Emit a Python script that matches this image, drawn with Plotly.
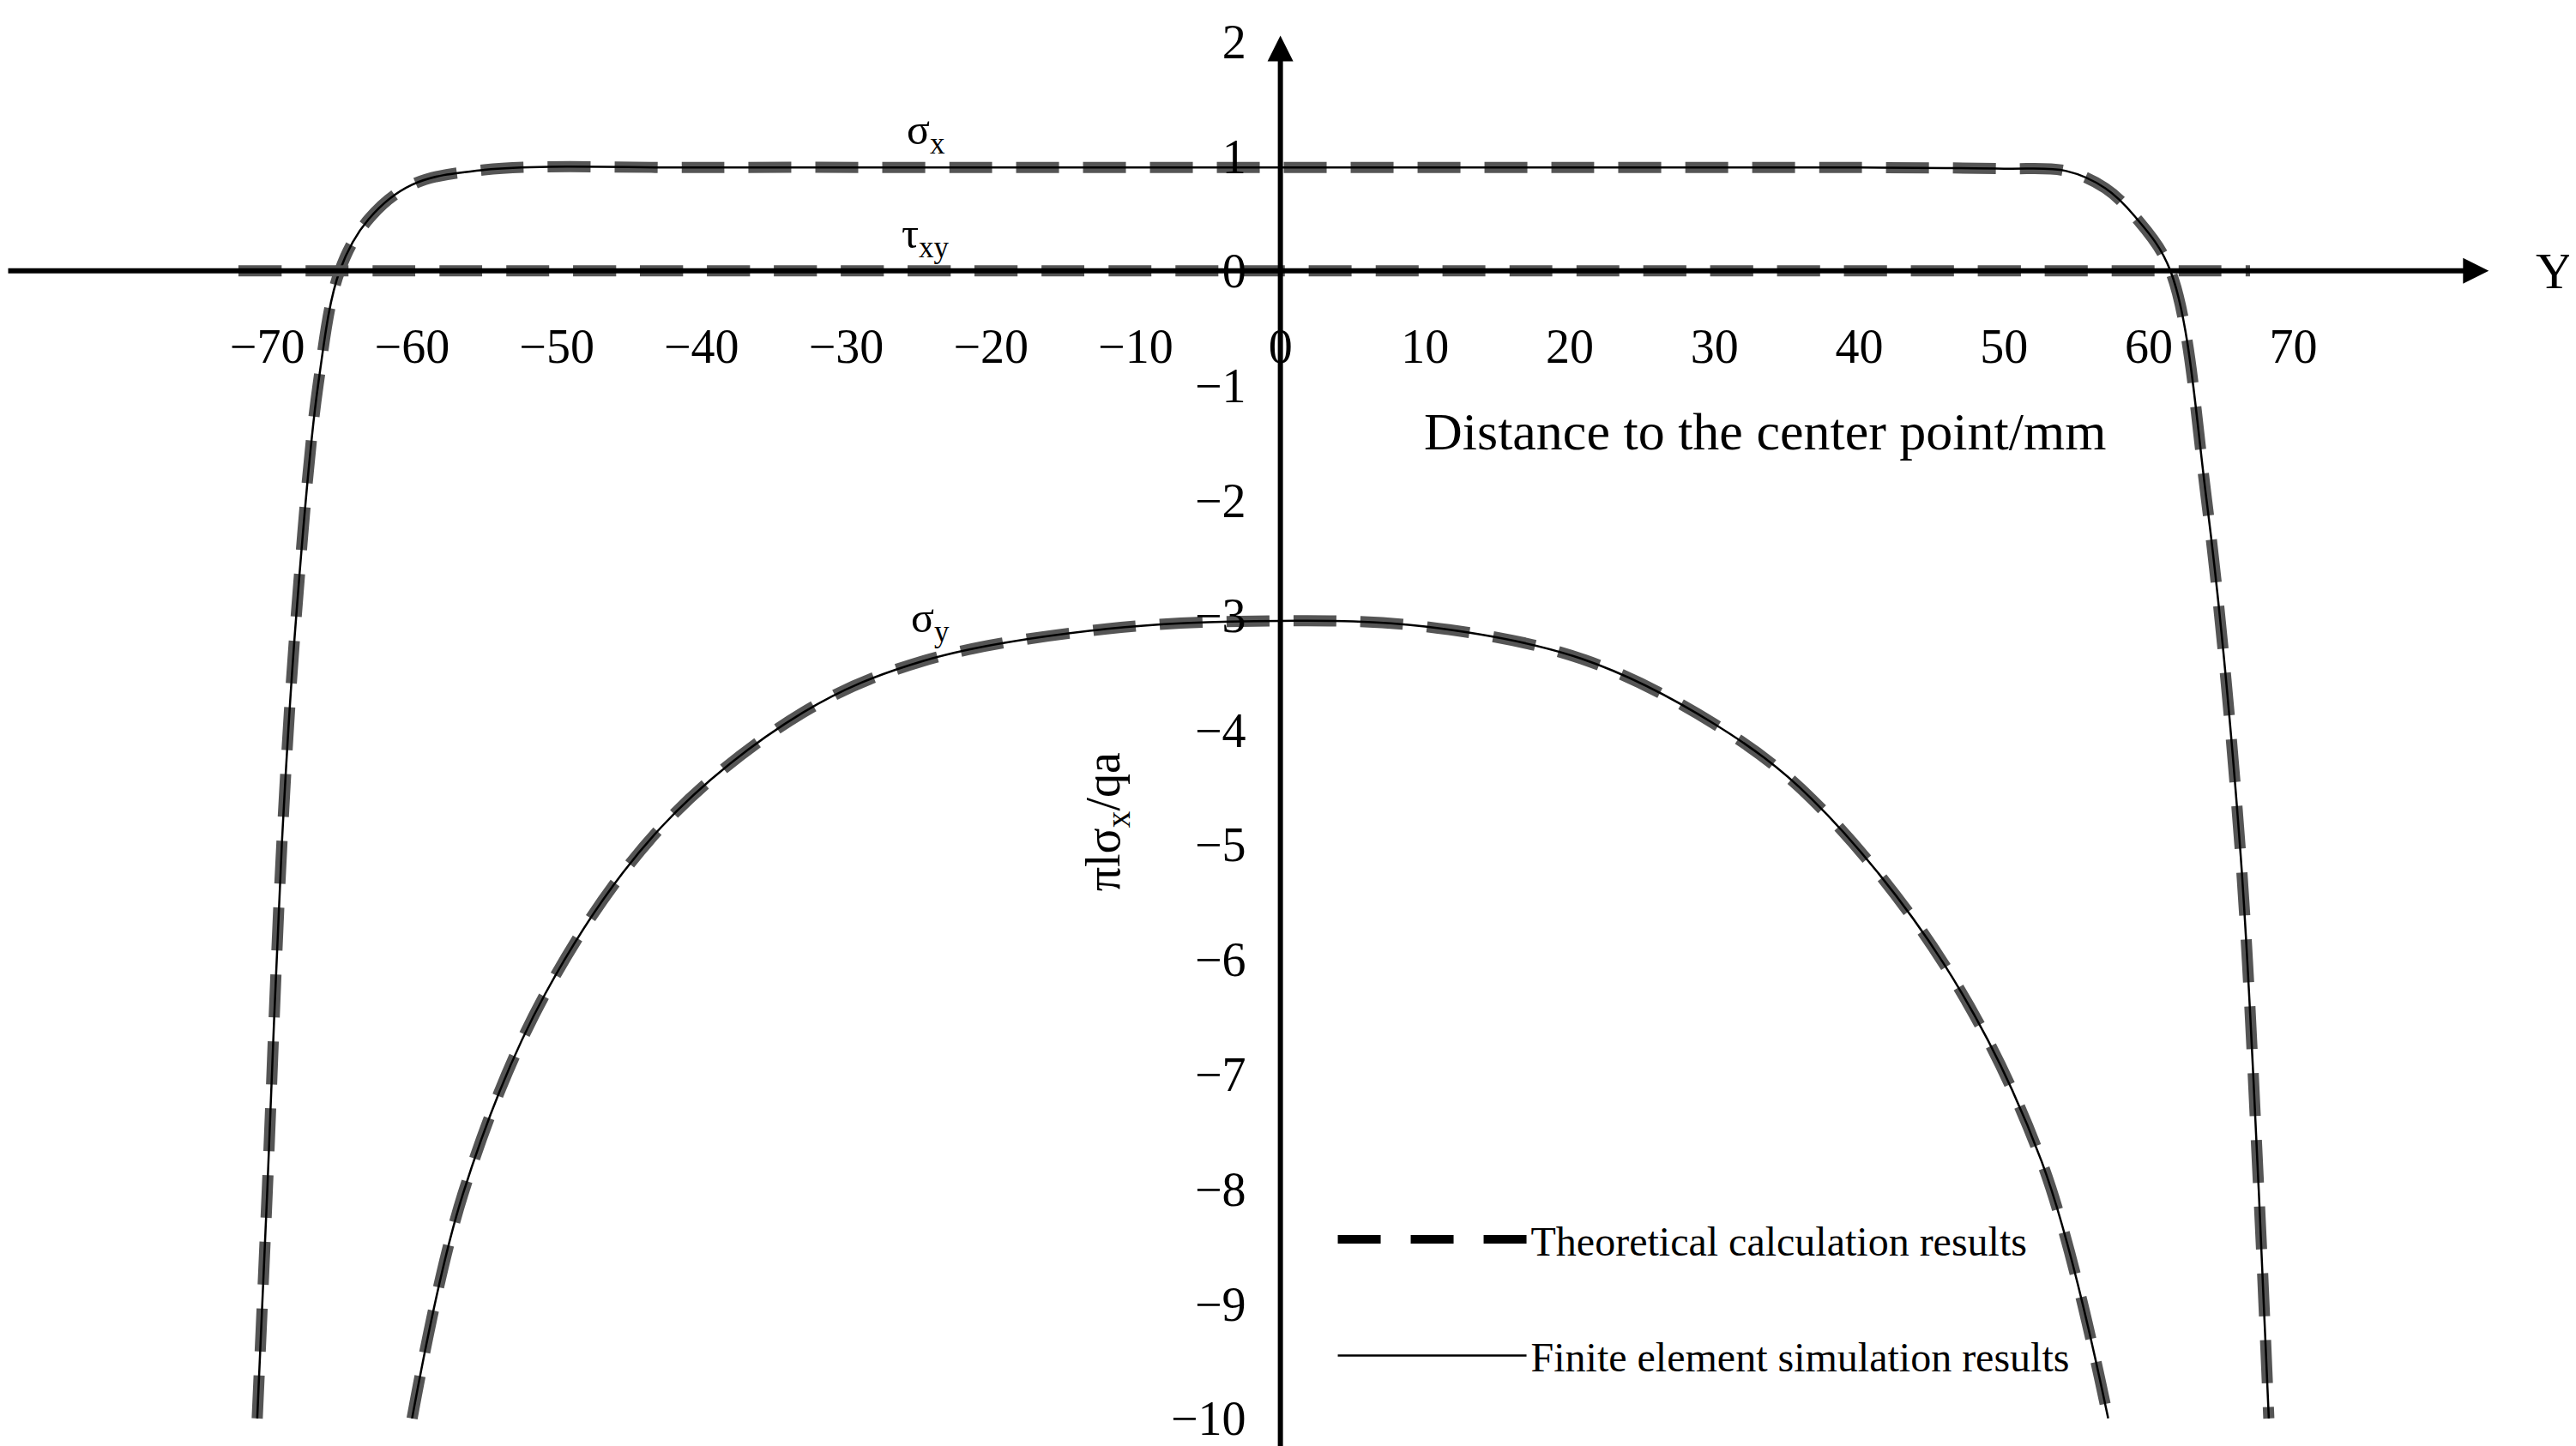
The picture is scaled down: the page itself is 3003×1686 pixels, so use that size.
import plotly.graph_objects as go

# sigma_x curve (distance mm, normalised stress)
sx_x = [-70.7, -70.0, -69.0, -68.0, -66.5, -65.0, -63.0, -60.0, -55.0, -40.0, -20.0, 0.0,
        20.0, 40.0, 50.0, 54.3, 57.0, 59.0, 61.5, 64.0, 66.3, 67.6, 68.3]
sx_y = [-10.0, -8.0, -5.0, -3.0, -1.0, 0.0, 0.45, 0.75, 0.88, 0.9, 0.9, 0.9,
        0.9, 0.9, 0.89, 0.87, 0.72, 0.48, 0.0, -2.0, -5.0, -8.0, -10.0]
# sigma_y curve
sy_x = [-60.0, -56.5, -50.8, -42.8, -33.0, -24.7, -12.0, 0.0, 10.0, 20.8, 30.0, 36.7, 45.8, 52.6, 57.2]
sy_y = [-10.0, -8.05, -6.3, -4.85, -3.85, -3.4, -3.12, -3.05, -3.1, -3.38, -3.95, -4.6, -6.03, -7.76, -10.0]
# tau_xy
txy_x = [-72.0, 0.0, 67.0]
txy_y = [0.0, 0.0, 0.0]

x_ticks = [-70, -60, -50, -40, -30, -20, -10, 0, 10, 20, 30, 40, 50, 60, 70]
y_ticks = list(range(-10, 3))

XR = [-88, 90]
YR = [-10.3, 2.3]
FONT = "Liberation Serif"

fig = go.Figure()
dash_style = dict(color="#555555", width=13, dash="50px,28px")
solid_style = dict(color="black", width=2.5)
for xs, ys in [(sx_x, sx_y), (sy_x, sy_y), (txy_x, txy_y)]:
    fig.add_trace(go.Scatter(x=xs, y=ys, mode="lines", line=dict(shape="spline", **dash_style),
                             showlegend=False, hoverinfo="skip"))
    fig.add_trace(go.Scatter(x=xs, y=ys, mode="lines", line=dict(shape="spline", **solid_style),
                             showlegend=False, hoverinfo="skip"))

# legend entries
fig.add_trace(go.Scatter(x=[None], y=[None], mode="lines", name="Theoretical calculation results",
                         legendgroup="a", line=dict(color="black", width=14, dash="50px,35px")))
fig.add_trace(go.Scatter(x=[None], y=[None], mode="lines", name="Finite element simulation results",
                         legendgroup="b", line=dict(color="black", width=2.5)))

x0 = (0 - XR[0]) / (XR[1] - XR[0])
y0 = (0 - YR[0]) / (YR[1] - YR[0])

fig.update_layout(
    width=3003, height=1686,
    margin=dict(l=0, r=0, t=0, b=0),
    paper_bgcolor="white", plot_bgcolor="white",
    font=dict(family=FONT, size=56, color="black"),
    xaxis=dict(range=XR, tickvals=x_ticks, ticktext=["\u2212%d" % -v if v < 0 else str(v) for v in x_ticks],
               showgrid=False, zeroline=False, showline=False, ticks="", anchor="free", position=y0,
               ticklabelstandoff=50, domain=[0, 1]),
    yaxis=dict(range=YR, tickvals=y_ticks, ticktext=["\u2212%d" % -v if v < 0 else str(v) for v in y_ticks],
               showgrid=False, zeroline=False, showline=False, ticks="", anchor="free", position=x0,
               ticklabelposition="outside", ticklabelstandoff=40, domain=[0, 1]),
    legend=dict(x=0.515, y=0.17, xanchor="left", yanchor="top", bgcolor="rgba(0,0,0,0)",
                font=dict(size=48, family=FONT), tracegroupgap=70, itemwidth=220),
)

# axis lines with arrows
fig.add_annotation(x=83.5, y=0, ax=XR[0], ay=0, xref="x", yref="y", axref="x", ayref="y",
                   showarrow=True, arrowhead=2, arrowsize=1, arrowwidth=6, arrowcolor="black", text="")
fig.add_annotation(x=0, y=2.05, ax=0, ay=YR[0], xref="x", yref="y", axref="x", ayref="y",
                   showarrow=True, arrowhead=2, arrowsize=1, arrowwidth=6, arrowcolor="black", text="")
fig.add_annotation(x=88, y=0, text="Y", showarrow=False, font=dict(size=60))

fig.add_annotation(x=33.5, y=-1.4, text="Distance to the center point/mm", showarrow=False,
                   font=dict(size=62))
fig.add_annotation(x=-12, y=-4.8, text="\u03c0l\u03c3<sub>x</sub>/qa", textangle=-90,
                   showarrow=False, font=dict(size=56))
fig.add_annotation(x=-24.5, y=1.2, text="\u03c3<sub>x</sub>", showarrow=False, font=dict(size=50))
fig.add_annotation(x=-24.5, y=0.3, text="\u03c4<sub>xy</sub>", showarrow=False, font=dict(size=50))
fig.add_annotation(x=-24.2, y=-3.05, text="\u03c3<sub>y</sub>", showarrow=False, font=dict(size=50))

fig.write_html("out.html")
